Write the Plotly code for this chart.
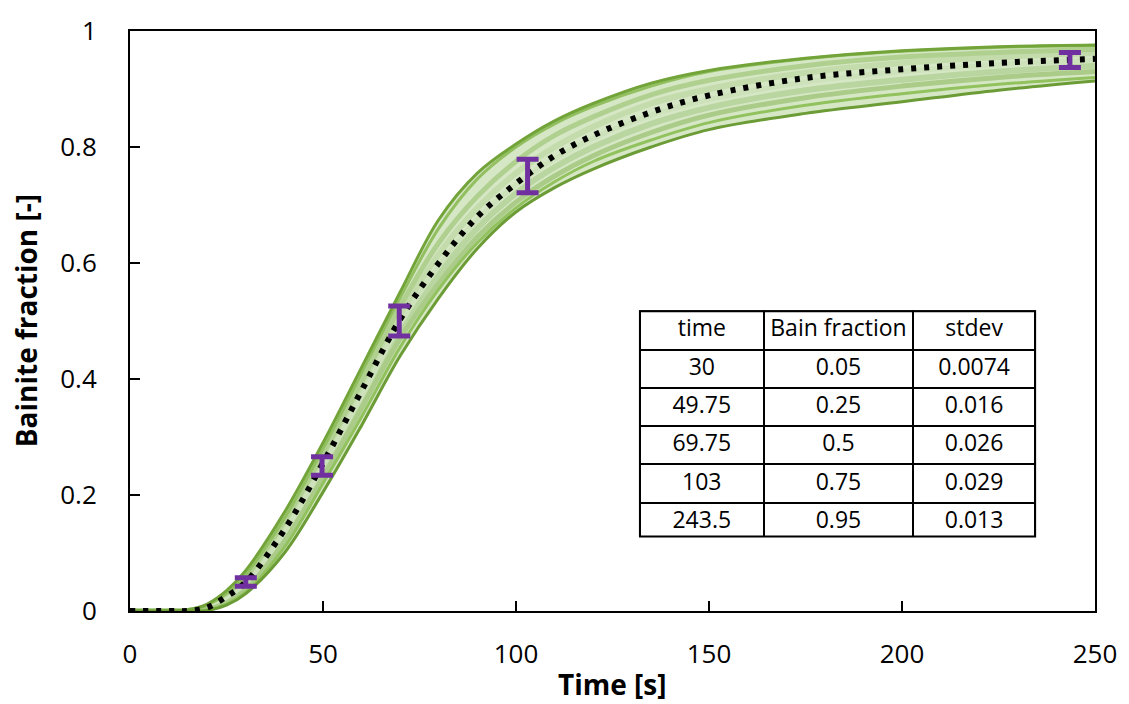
import plotly.graph_objects as go

# ---------------- data ----------------
T = [0, 10, 15, 20, 25, 30, 40, 50, 60, 70, 80, 90, 100, 110, 120, 135, 150, 175, 200, 225, 250]

green_top_dark = [0, 0, 0.002, 0.012, 0.035, 0.07, 0.17, 0.29, 0.42, 0.55, 0.675, 0.755, 0.805, 0.845, 0.875, 0.91, 0.932, 0.953, 0.966, 0.973, 0.976]
green_top_mid = [0, 0, 0.001, 0.010, 0.030, 0.063, 0.16, 0.28, 0.41, 0.54, 0.66, 0.745, 0.80, 0.84, 0.87, 0.905, 0.93, 0.952, 0.965, 0.972, 0.975]
green_in_1 = [0, 0, 0.001, 0.009, 0.028, 0.058, 0.155, 0.27, 0.395, 0.525, 0.635, 0.715, 0.775, 0.82, 0.852, 0.89, 0.915, 0.94, 0.955, 0.963, 0.968]
green_in_2 = [0, 0, 0, 0.007, 0.024, 0.052, 0.145, 0.26, 0.385, 0.51, 0.615, 0.695, 0.755, 0.80, 0.835, 0.875, 0.90, 0.928, 0.945, 0.955, 0.962]
green_in_3 = [0, 0, 0, 0.005, 0.020, 0.046, 0.135, 0.25, 0.37, 0.495, 0.595, 0.675, 0.735, 0.78, 0.815, 0.855, 0.882, 0.912, 0.93, 0.942, 0.95]
green_in_4 = [0, 0, 0, 0.004, 0.017, 0.042, 0.128, 0.24, 0.36, 0.48, 0.58, 0.66, 0.72, 0.765, 0.80, 0.84, 0.868, 0.898, 0.916, 0.93, 0.94]
green_in_5 = [0, 0, 0, 0.003, 0.014, 0.037, 0.12, 0.23, 0.35, 0.47, 0.565, 0.645, 0.705, 0.75, 0.785, 0.825, 0.855, 0.885, 0.905, 0.92, 0.93]
green_bot_mid = [0, 0, 0, 0.002, 0.012, 0.033, 0.11, 0.22, 0.335, 0.455, 0.555, 0.635, 0.695, 0.74, 0.775, 0.812, 0.842, 0.872, 0.892, 0.908, 0.92]
green_bot_dark = [0, 0, 0, 0.001, 0.010, 0.030, 0.10, 0.205, 0.32, 0.44, 0.54, 0.625, 0.688, 0.73, 0.762, 0.80, 0.83, 0.858, 0.878, 0.898, 0.914]

mean_curve = [0, 0, 0, 0.006, 0.025, 0.05, 0.14, 0.255, 0.38, 0.503, 0.60, 0.68, 0.737, 0.785, 0.82, 0.86, 0.889, 0.919, 0.934, 0.945, 0.952]

table_header = ["time", "Bain\u00a0fraction", "stdev"]
table_time = ["30", "49.75", "69.75", "103", "243.5"]
table_frac = ["0.05", "0.25", "0.5", "0.75", "0.95"]
table_std = ["0.0074", "0.016", "0.026", "0.029", "0.013"]

err_time = [30, 49.75, 69.75, 103, 243.5]
err_frac = [0.05, 0.25, 0.5, 0.75, 0.95]
err_std = [0.0074, 0.016, 0.026, 0.029, 0.013]

x_ticks = [0, 50, 100, 150, 200, 250]
y_ticks = [0, 0.2, 0.4, 0.6, 0.8, 1]
y_tick_text = ["0", "0.2", "0.4", "0.6", "0.8", "1"]

x_title = "Time [s]"
y_title = "Bainite fraction [-]"

# ---------------- figure ----------------
FONT = "'Open Sans', Lato, sans-serif"
PL, PR, PT, PB = 130, 1097, 19, 611  # plot-area pixel box
PW, PH = PR - PL, PB - PT

fig = go.Figure()

# light band fill
fig.add_trace(go.Scatter(x=T, y=green_bot_dark, mode="lines", line=dict(width=0, shape="spline"),
                         showlegend=False, hoverinfo="skip"))
fig.add_trace(go.Scatter(x=T, y=green_top_dark, mode="lines", line=dict(width=0, shape="spline"),
                         fill="tonexty", fillcolor="rgb(214,231,198)", showlegend=False, hoverinfo="skip"))

green_lines = [
    (green_in_2, "rgb(196,220,172)", 6),
    (green_in_4, "rgb(186,214,160)", 6),
    (green_in_1, "rgb(176,208,144)", 5),
    (green_in_3, "rgb(205,226,186)", 5),
    (green_in_5, "rgb(170,204,136)", 5),
    (green_top_mid, "rgb(146,192,96)", 3),
    (green_bot_mid, "rgb(146,194,94)", 3),
    (green_top_dark, "rgb(114,164,58)", 3),
    (green_bot_dark, "rgb(108,156,54)", 3),
]
for ys, col, w in green_lines:
    fig.add_trace(go.Scatter(x=T, y=ys, mode="lines", line=dict(color=col, width=w, shape="spline"),
                             showlegend=False, hoverinfo="skip"))

# mean dotted curve
fig.add_trace(go.Scatter(x=T, y=mean_curve, mode="lines",
                         line=dict(color="black", width=6, dash="5px,8px", shape="spline"),
                         showlegend=False))

# error bars
fig.add_trace(go.Scatter(x=err_time, y=err_frac, mode="markers",
                         marker=dict(size=1, color="rgb(112,48,160)"),
                         error_y=dict(type="data", array=err_std, visible=True,
                                      color="rgb(112,48,160)", thickness=5, width=11),
                         showlegend=False))

# table
TX0, TX1, TY0, TY1 = 641, 1037, 305, 535
tdom_x = [(TX0 - PL) / PW, (TX1 - PL) / PW]
tdom_y = [(PB - TY1) / PH, (PB - TY0) / PH]
fig.add_trace(go.Table(
    domain=dict(x=tdom_x, y=tdom_y),
    columnwidth=[124, 150, 122],
    header=dict(values=table_header, align="center", height=38.3,
                fill=dict(color="white"), line=dict(color="black", width=2),
                font=dict(family=FONT, size=23, color="black")),
    cells=dict(values=[table_time, table_frac, table_std], align="center", height=38.3,
               fill=dict(color="white"), line=dict(color="black", width=2),
               font=dict(family=FONT, size=23, color="black")),
))
fig.add_shape(type="rect", xref="paper", yref="paper",
              x0=tdom_x[0], x1=tdom_x[1], y0=tdom_y[0], y1=tdom_y[1],
              line=dict(color="black", width=2), fillcolor="rgba(0,0,0,0)", layer="above")

# axis titles as annotations
fig.add_annotation(text="<b>" + x_title + "</b>", xref="paper", yref="paper",
                   x=0.5, y=(PB - 685) / PH, xanchor="center", yanchor="middle",
                   showarrow=False, font=dict(family=FONT, size=28, color="black"))
fig.add_annotation(text="<b>" + y_title + "</b>", xref="paper", yref="paper",
                   x=(26 - PL) / PW, y=0.5, xanchor="center", yanchor="middle", textangle=-90,
                   showarrow=False, font=dict(family=FONT, size=28, color="black"))

fig.update_layout(
    width=1129, height=704,
    margin=dict(l=PL, r=1129 - PR, t=PT, b=704 - PB),
    paper_bgcolor="white", plot_bgcolor="white",
    font=dict(family=FONT, size=26, color="black"),
    showlegend=False,
)
fig.update_xaxes(range=[0, 250], tickvals=x_ticks, ticks="inside", ticklen=10, tickwidth=2,
                 tickcolor="black", showline=True, linecolor="black", linewidth=2, mirror=True,
                 showgrid=False, zeroline=False, ticklabelstandoff=19,
                 tickfont=dict(size=26))
fig.update_yaxes(range=[0, 1], tickvals=y_ticks, ticktext=y_tick_text, ticks="inside", ticklen=10,
                 tickwidth=2, tickcolor="black", showline=True, linecolor="black", linewidth=2,
                 mirror=True, showgrid=False, zeroline=False, ticklabelstandoff=26,
                 tickfont=dict(size=26))

fig.write_html(
    "out.html",
    config={"displayModeBar": False},
    post_script=("var gd=document.getElementById('{plot_id}');"
                 "document.body.style.margin='0';"
                 "gd.style.position='absolute';gd.style.left='0px';gd.style.top='0px';"),
)
